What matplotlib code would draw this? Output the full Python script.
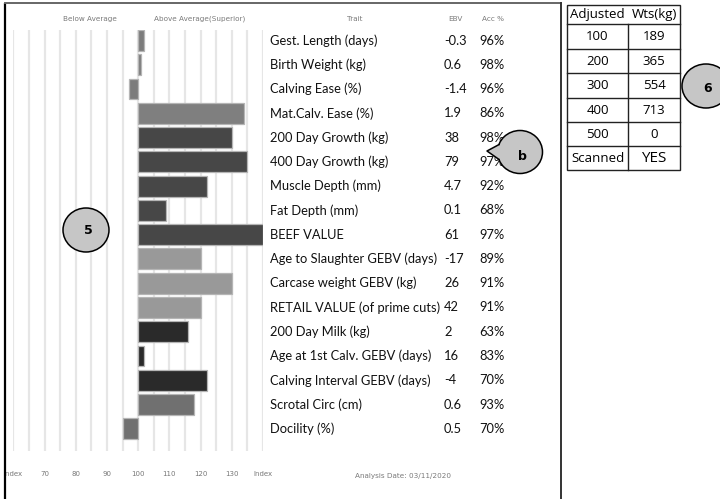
import matplotlib
matplotlib.use("Agg")
import matplotlib.pyplot as plt
from matplotlib.patches import Ellipse, Polygon, Rectangle
from matplotlib.transforms import blended_transform_factory
import numpy as np

# ---------------- data ----------------
traits = ["Gest. Length (days)", "Birth Weight (kg)", "Calving Ease (%)",
          "Mat.Calv. Ease (%)", "200 Day Growth (kg)", "400 Day Growth (kg)",
          "Muscle Depth (mm)", "Fat Depth (mm)", "BEEF VALUE",
          "Age to Slaughter GEBV (days)", "Carcase weight GEBV (kg)",
          "RETAIL VALUE (of prime cuts)", "200 Day Milk (kg)",
          "Age at 1st Calv. GEBV (days)", "Calving Interval GEBV (days)",
          "Scrotal Circ (cm)", "Docility (%)"]
ebv = ["-0.3", "0.6", "-1.4", "1.9", "38", "79", "4.7", "0.1", "61",
       "-17", "26", "42", "2", "16", "-4", "0.6", "0.5"]
acc = [96, 98, 96, 86, 98, 97, 92, 68, 97, 89, 91, 91, 63, 83, 70, 93, 70]
index_vals = [102, 101, 97, 134, 130, 135, 122, 109, 140,
              120, 130, 120, 116, 102, 122, 118, 95]
bar_colors = ["#7c7c7c", "#7c7c7c", "#7c7c7c", "#7f7f7f",
              "#474747", "#474747", "#474747", "#474747", "#474747",
              "#999999", "#999999", "#999999",
              "#2a2a2a", "#2a2a2a", "#2a2a2a",
              "#707070", "#707070"]
tick_vals = [60, 70, 80, 90, 100, 110, 120, 130, 140]
tick_labels = ["Index", "70", "80", "90", "100", "110", "120", "130", "Index"]
adjusted_days = ["100", "200", "300", "400", "500", "Scanned"]
adjusted_wts = ["189", "365", "554", "713", "0", "YES"]
analysis_date = "Analysis Date: 03/11/2020"

W, H = 720, 499
fig = plt.figure(figsize=(W / 100, H / 100), dpi=100)
fig.patch.set_facecolor("white")

def fx(px):
    return px / W

def fy(py):
    return 1 - py / H

# ---------------- bar axes ----------------
left_px, right_px = 13.3, 263.0
top_px, bot_px = 30.0, 451.0
ax = fig.add_axes([fx(left_px), fy(bot_px), (right_px - left_px) / W, (bot_px - top_px) / H])
ax.set_xlim(60, 140)
row0, step = 40.5, 24.27
ax.set_ylim((bot_px - row0) / step, (top_px - row0) / step)
ax.set_facecolor("none")
for s in ax.spines.values():
    s.set_visible(False)
ax.set_xticks(np.arange(60, 141, 5))
ax.tick_params(length=0, labelbottom=False, labelleft=False)
ax.set_yticks([])
ax.grid(axis="x", color="#e6e6e6", linewidth=1.6, zorder=0)

y = np.arange(len(traits))
ax.barh(y, np.array(index_vals) - 100, left=100, height=0.86,
        color=bar_colors, edgecolor="#b5b5b5", linewidth=0.9, zorder=3)

# tick labels below
tr_tick = blended_transform_factory(ax.transData, fig.transFigure)
for v, lab in zip(tick_vals, tick_labels):
    ax.text(v, fy(474), lab, transform=tr_tick, ha="center", va="center",
            fontsize=5, color="#777777", family="DejaVu Sans")

# header labels
hdr = dict(fontsize=5.2, color="#7a7a7a", family="DejaVu Sans", ha="center", va="center")
fig.text(fx(90), fy(19), "Below Average", **hdr)
fig.text(fx(200), fy(19), "Above Average(Superior)", **hdr)
fig.text(fx(355), fy(19), "Trait", **hdr)
fig.text(fx(455), fy(19), "EBV", **hdr)
fig.text(fx(493), fy(19), "Acc %", **hdr)
fig.text(fx(403), fy(476), analysis_date, **hdr)

# row texts
tr_row = blended_transform_factory(fig.transFigure, ax.transData)
tf = dict(fontsize=9.3, color="#111111", family="Lato", va="center", ha="left")
for i in range(len(traits)):
    ax.text(fx(270), i, traits[i], transform=tr_row, **tf)
    ax.text(fx(444), i, ebv[i], transform=tr_row, **tf)
    ax.text(fx(479), i, f"{acc[i]}%", transform=tr_row, **tf)

# ---------------- overlay (frame, table, callouts) ----------------
ov = fig.add_axes([0, 0, 1, 1], zorder=5)
ov.set_xlim(0, W)
ov.set_ylim(H, 0)
ov.axis("off")
ov.set_facecolor("none")

# panel frame
ov.plot([4.5, 4.5], [3, 505], color="black", lw=1.6, solid_capstyle="butt")
ov.plot([4.5, 560.5], [3, 3], color="#666666", lw=1.4)
ov.plot([560.5, 560.5], [3, 505], color="#333333", lw=1.4)

# table
tx0, tx1, tmid = 567, 680, 628
rows = [5, 24, 49, 73, 98, 122, 146, 170]
ov.add_patch(Rectangle((tx0, rows[0]), tx1 - tx0, rows[-1] - rows[0],
                       fill=False, edgecolor="#222222", lw=1.0))
for r in rows[1:-1]:
    ov.plot([tx0, tx1], [r, r], color="#222222", lw=1.0)
ov.plot([tmid, tmid], [rows[1], rows[-1]], color="#222222", lw=1.0)
tt = dict(fontsize=9.5, color="black", family="Open Sans", ha="center", va="center")
ov.text((tx0 + tmid) / 2, (rows[0] + rows[1]) / 2, "Adjusted", **tt)
ov.text((tmid + tx1) / 2, (rows[0] + rows[1]) / 2, "Wts(kg)", **tt)
for k in range(len(adjusted_days)):
    cy = (rows[k + 1] + rows[k + 2]) / 2
    ov.text((tx0 + tmid) / 2, cy, adjusted_days[k], **tt)
    fs = 11 if adjusted_wts[k] == "YES" else 9.5
    ov.text((tmid + tx1) / 2, cy, adjusted_wts[k], **{**tt, "fontsize": fs})

# callout circles
cfill = "#c6c6c6"
ov.add_patch(Ellipse((86, 230), 46, 44, facecolor=cfill, edgecolor="black", lw=1.1))
ov.text(88, 231, "5", fontsize=9, fontweight="bold", ha="center", va="center",
        family="DejaVu Sans")

ov.add_patch(Ellipse((706, 86), 48, 44, facecolor=cfill, edgecolor="black", lw=1.1))
ov.text(708, 88, "6", fontsize=9, fontweight="bold", ha="center", va="center",
        family="DejaVu Sans")

bc = (520, 152)
ov.add_patch(Ellipse(bc, 45, 43, facecolor=cfill, edgecolor="black", lw=1.1))
tip = (487, 151)
a1, a2 = np.deg2rad(200), np.deg2rad(160)
p1 = (bc[0] + 22.5 * np.cos(a1), bc[1] + 21.5 * np.sin(a1))
p2 = (bc[0] + 22.5 * np.cos(a2), bc[1] + 21.5 * np.sin(a2))
ov.add_patch(Polygon([tip, p1, (bc[0] - 14, bc[1]), p2], closed=True,
                     facecolor=cfill, edgecolor="none", zorder=3))
ov.plot([p1[0], tip[0], p2[0]], [p1[1], tip[1], p2[1]], color="black", lw=1.1, zorder=4)
ov.text(522, 156, "b", fontsize=9, fontweight="bold", ha="center", va="center",
        family="DejaVu Sans", zorder=5)

fig.savefig("out.png", dpi=100, facecolor="white")
